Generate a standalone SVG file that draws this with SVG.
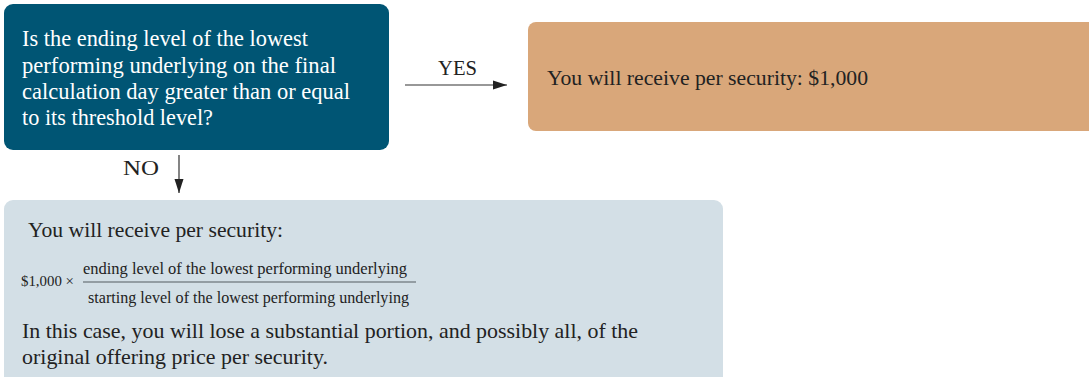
<svg xmlns="http://www.w3.org/2000/svg" width="1089" height="377" viewBox="0 0 1089 377">
<style>
text { font-family: "Liberation Serif", "DejaVu Serif", serif; }
.q { fill: #ffffff; font-size: 22.3px; }
.d { fill: #222222; font-size: 21.8px; }
.lbl { fill: #222222; font-size: 20.5px; }
.sm { fill: #222222; font-size: 16.5px; }
.xs { fill: #222222; font-size: 14.8px; }
.conn { stroke: #333333; stroke-width: 1.2; fill: none; }
</style>
<defs>
<marker id="ah" viewBox="0 0 14 10" refX="14" refY="5" markerWidth="14" markerHeight="10" markerUnits="userSpaceOnUse" orient="auto">
<path d="M0,0.5 L14,5 L0,9.5 Z" fill="#222222"/>
</marker>
</defs>
<rect width="1089" height="377" fill="#ffffff"/>
<g id="question">
<rect x="4" y="4" width="385" height="146" rx="9" fill="#005574"/>
<text class="q" x="22" y="46" textLength="286" lengthAdjust="spacingAndGlyphs">Is the ending level of the lowest</text>
<text class="q" x="22" y="72.5" textLength="314" lengthAdjust="spacingAndGlyphs">performing underlying on the final</text>
<text class="q" x="22" y="99" textLength="328" lengthAdjust="spacingAndGlyphs">calculation day greater than or equal</text>
<text class="q" x="22" y="125" textLength="191" lengthAdjust="spacingAndGlyphs">to its threshold level?</text>
</g>
<g id="yes-result">
<rect x="528" y="22" width="575" height="109" rx="8" fill="#d9a77a"/>
<text class="d" x="547" y="85" textLength="321" lengthAdjust="spacingAndGlyphs">You will receive per security: $1,000</text>
</g>
<g id="no-result">
<rect x="4" y="200" width="719" height="190" rx="9" fill="#d3dfe6"/>
<text class="d" x="28" y="237" textLength="255" lengthAdjust="spacingAndGlyphs">You will receive per security:</text>
<text class="xs" x="21" y="285.5" textLength="53" lengthAdjust="spacingAndGlyphs">$1,000 ×</text>
<text class="sm" x="83" y="274" textLength="324" lengthAdjust="spacingAndGlyphs">ending level of the lowest performing underlying</text>
<line x1="83" y1="282" x2="416" y2="282" stroke="#7e878d" stroke-width="1.6"/>
<text class="sm" x="88" y="303" textLength="321" lengthAdjust="spacingAndGlyphs">starting level of the lowest performing underlying</text>
<text class="d" x="22" y="338" textLength="616" lengthAdjust="spacingAndGlyphs">In this case, you will lose a substantial portion, and possibly all, of the</text>
<text class="d" x="22" y="364" textLength="306" lengthAdjust="spacingAndGlyphs">original offering price per security.</text>
</g>
<g id="connectors">
<line class="conn" x1="405" y1="85" x2="507" y2="85" marker-end="url(#ah)"/>
<text class="lbl" x="438" y="75" textLength="39" lengthAdjust="spacingAndGlyphs">YES</text>
<line class="conn" x1="179" y1="155" x2="179" y2="193" marker-end="url(#ah)"/>
<text class="lbl" x="123" y="175" textLength="36" lengthAdjust="spacingAndGlyphs">NO</text>
</g>
</svg>
